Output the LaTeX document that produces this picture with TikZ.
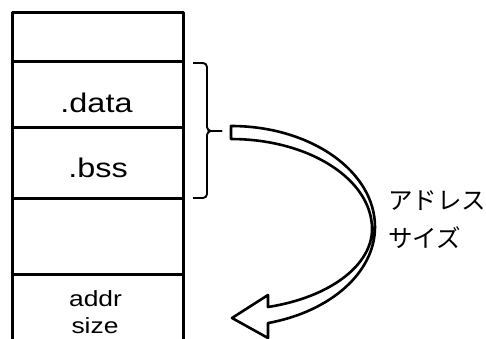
\documentclass[tikz,border=0pt]{standalone}
\usepackage{fontspec}
\setmainfont{Liberation Sans}
\newfontfamily\widefont[FakeStretch=1.2]{Liberation Sans}
\newfontfamily\jpfont{Noto Sans CJK JP}
\begin{document}
\begin{tikzpicture}[x=1pt,y=1pt,line join=round,
  boxline/.style={line width=3pt},
  bracel/.style={line width=1.9pt,rounded corners=4pt},
  arrowline/.style={line width=2.6pt,fill=white},
  bigtxt/.style={anchor=base,inner sep=0pt,font=\widefont\fontsize{27}{30}\selectfont},
  smalltxt/.style={anchor=base,inner sep=0pt,font=\widefont\fontsize{22}{26}\selectfont},
  jptxt/.style={anchor=west,inner sep=0pt,font=\jpfont\fontsize{24.5}{28}\selectfont}]
\useasboundingbox (0,0) rectangle (486,338);
% memory map box
\draw[boxline] (12.5,-5) -- (12.5,325) -- (183,325) -- (183,-5);
\draw[boxline] (12.5,276) -- (183,276);
\draw[boxline] (12.5,211) -- (183,211);
\draw[boxline] (12.5,140) -- (183,140);
\draw[boxline] (12.5,64) -- (183,64);
% texts
\node[bigtxt] (data) at (96.5,226) {.data};
\node[bigtxt] (bss) at (98,161) {.bss};
\node[smalltxt] (addr) at (95.5,32) {addr};
\node[smalltxt] (size) at (95,4.5) {size};
\node[jptxt] (jp1) at (388,137) {アドレス};
\node[jptxt] (jp2) at (388,100) {サイズ};
% brace
\draw[bracel] (193,275) -- (207,275) -- (207,207) -- (222,207);
\draw[bracel] (193,140) -- (207,140) -- (207,207) -- (222,207);
% curved block arrow
\draw[arrowline] (231,212)
  arc[start angle=90, end angle=0, x radius=144, y radius=101]
  arc[start angle=0, end angle=-75.1, x radius=144, y radius=99.4]
  -- (268,0) -- (232,20) -- (268,43) -- (268,31)
  arc[start angle=-74.8, end angle=0, x radius=141, y radius=80.8]
  arc[start angle=0, end angle=90, x radius=141, y radius=90]
  -- cycle;
\end{tikzpicture}
\end{document}
